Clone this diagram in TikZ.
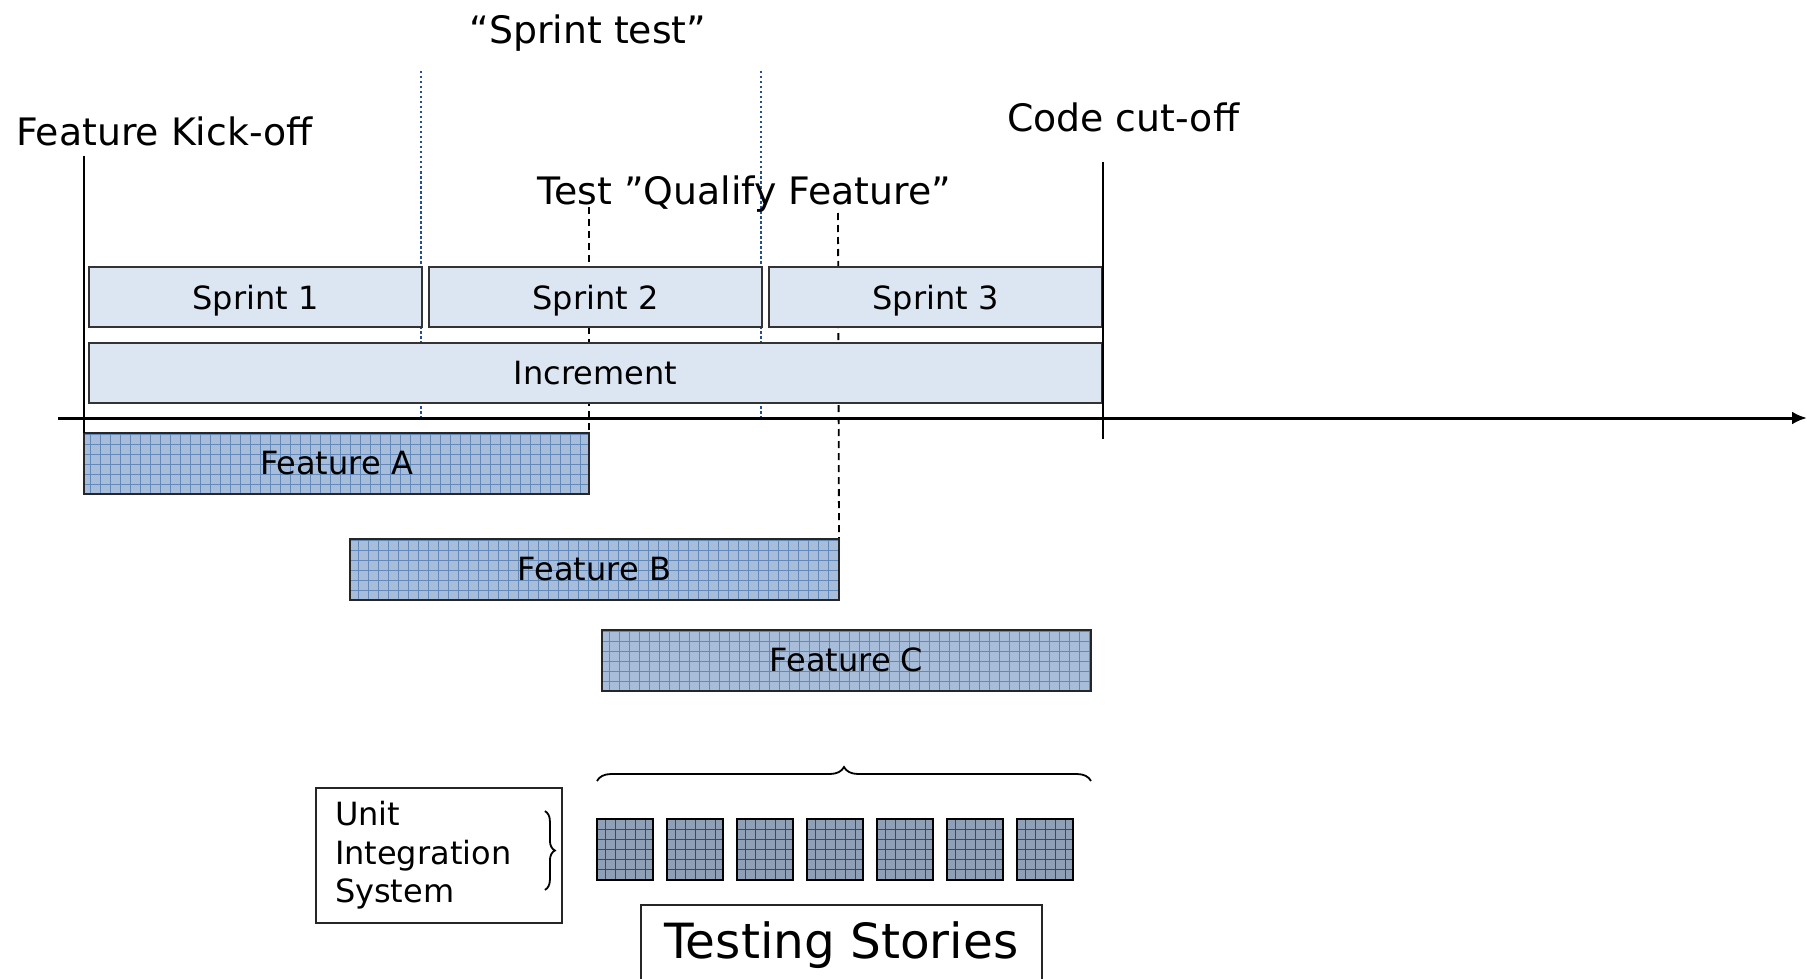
\documentclass[tikz,border=0pt]{standalone}
\usepackage{fontspec}
\setmainfont{DejaVu Sans}
\usetikzlibrary{arrows.meta,positioning,decorations.pathreplacing,backgrounds}

\definecolor{sprintfill}{HTML}{DCE6F2}
\definecolor{featfill}{HTML}{A7BDDA}
\definecolor{featgrid}{HTML}{6388BA}
\definecolor{storyfill}{HTML}{8E9FB6}
\definecolor{storygrid}{HTML}{34496D}
\definecolor{sepblue}{HTML}{24508F}

\begin{document}
\begin{tikzpicture}[
            x=1pt, y=-1pt,
            font=\fontsize{32}{38.5}\selectfont,
            node distance=7pt,
            heading/.style={inner sep=0pt, font=\fontsize{37.8}{42}\selectfont},
            sprint/.style={draw=black!80, line width=1.6pt, fill=sprintfill,
            minimum width=333pt, minimum height=60pt, inner sep=0pt, outer sep=0pt,
            text depth=0pt},
            feat/.style={draw=black!85, line width=1.6pt, fill=featfill,
            minimum height=61pt, inner sep=0pt, outer sep=0pt, text depth=2pt,
            path picture={\draw[featgrid, line width=0.6pt]
            (path picture bounding box.south west) grid[step=10pt]
            (path picture bounding box.north east);}},
            story/.style={draw=black, line width=2.6pt, fill=storyfill,
            minimum width=56pt, minimum height=61pt, inner sep=0pt, outer sep=0pt,
            path picture={\draw[storygrid, line width=0.8pt]
            (path picture bounding box.south west) grid[step=10pt]
            (path picture bounding box.north east);}},
            plainbox/.style={draw=black!85, line width=1.8pt, fill=white, inner sep=0pt},
            axis/.style={-{Latex[length=15pt,width=13pt]}, line width=3pt},
            mark line/.style={line width=1.8pt},
            sep line/.style={sepblue, line width=2.6pt, dash pattern=on 2.5pt off 2.5pt},
            qual line/.style={line width=1.8pt, dash pattern=on 7pt off 5pt},
            curly/.style={decorate, line width=1.8pt,
            decoration={brace, amplitude=14pt}}
        ]
\useasboundingbox (0,0) rectangle (1807,979);
\clip (0,0) rectangle (1807,979);

% --- milestone labels ---
            \node[heading]              (sprtest) at (588,33)    {“Sprint test”};
            \node[heading, anchor=west] (kickoff) at (16,131)    {Feature Kick-off};
            \node[heading]              (qualify) at (744.5,194) {Test ”Qualify Feature”};
            \node[heading, anchor=west] (cutoff)  at (1007,117)  {Code cut-off};

% --- sprints and increment ---
            \node[sprint]               (s1)  at (255.5,297) {Sprint 1};
            \node[sprint, right=of s1]  (s2)  {Sprint 2};
            \node[sprint, right=of s2]  (s3)  {Sprint 3};
            \node[sprint, minimum width=1013pt] (inc) at (595.5,373) {Increment};

% --- features ---
            \node[feat, minimum width=505pt] (fa) at (336.5,463.5) {Feature A};
            \node[feat, minimum width=489pt] (fb) at (594.5,569.5) {Feature B};
            \node[feat, minimum width=489pt] (fc) at (846.5,660.5) {Feature C};

% --- testing stories ---
            \foreach \i in {0,...,6}
                \node[story] (sq\i) at (625+70*\i,849.5) {};
            \node[plainbox, minimum width=246pt, minimum height=135pt,
                  text width=208pt, align=left, inner xsep=19pt] (levels) at (439,855.5)
                  {Unit\\Integration\\System};
            \node[plainbox, minimum width=401pt, minimum height=80pt,
                  font=\fontsize{48.5}{50}\selectfont] (stories) at (841.5,945) {Testing Stories};

% time axis
            \coordinate (ax0) at (58,418);
            \coordinate (ax1) at (1807,418);
            \draw[axis] (ax0) -- (ax1);

% kick-off and cut-off marks
            \coordinate (kotop) at (84,156);
            \coordinate (cotop) at (1103,162);
            \coordinate (cobot) at (1103,439);
            \draw[mark line] (kotop) -- (fa.north west);
            \draw[mark line] (cotop) -- (cobot);

% sprint test and qualify marks, behind the boxes
            \coordinate (st1) at (421,71);
            \coordinate (st2) at (761,71);
            \coordinate (qa) at (589,207);
            \coordinate (qb) at (838,213);
            \begin{scope}[on background layer]
                \draw[sep line] (st1) -- (st1 |- ax0);
                \draw[sep line] (st2) -- (st2 |- ax0);
                \draw[qual line] (qa) -- (fa.north east);
                \draw[qual line] (qb) -- (fb.north east);
            \end{scope}

% braces
            \draw[curly] ([yshift=38pt]sq0.north west) -- ([yshift=38pt]sq0.north west -| fc.east);
            \draw[curly, decoration={brace, amplitude=10pt}]
                ([xshift=-18pt,yshift=-24pt]levels.north east) -- ([xshift=-18pt,yshift=34pt]levels.south east);
        \end{tikzpicture}
\end{document}
